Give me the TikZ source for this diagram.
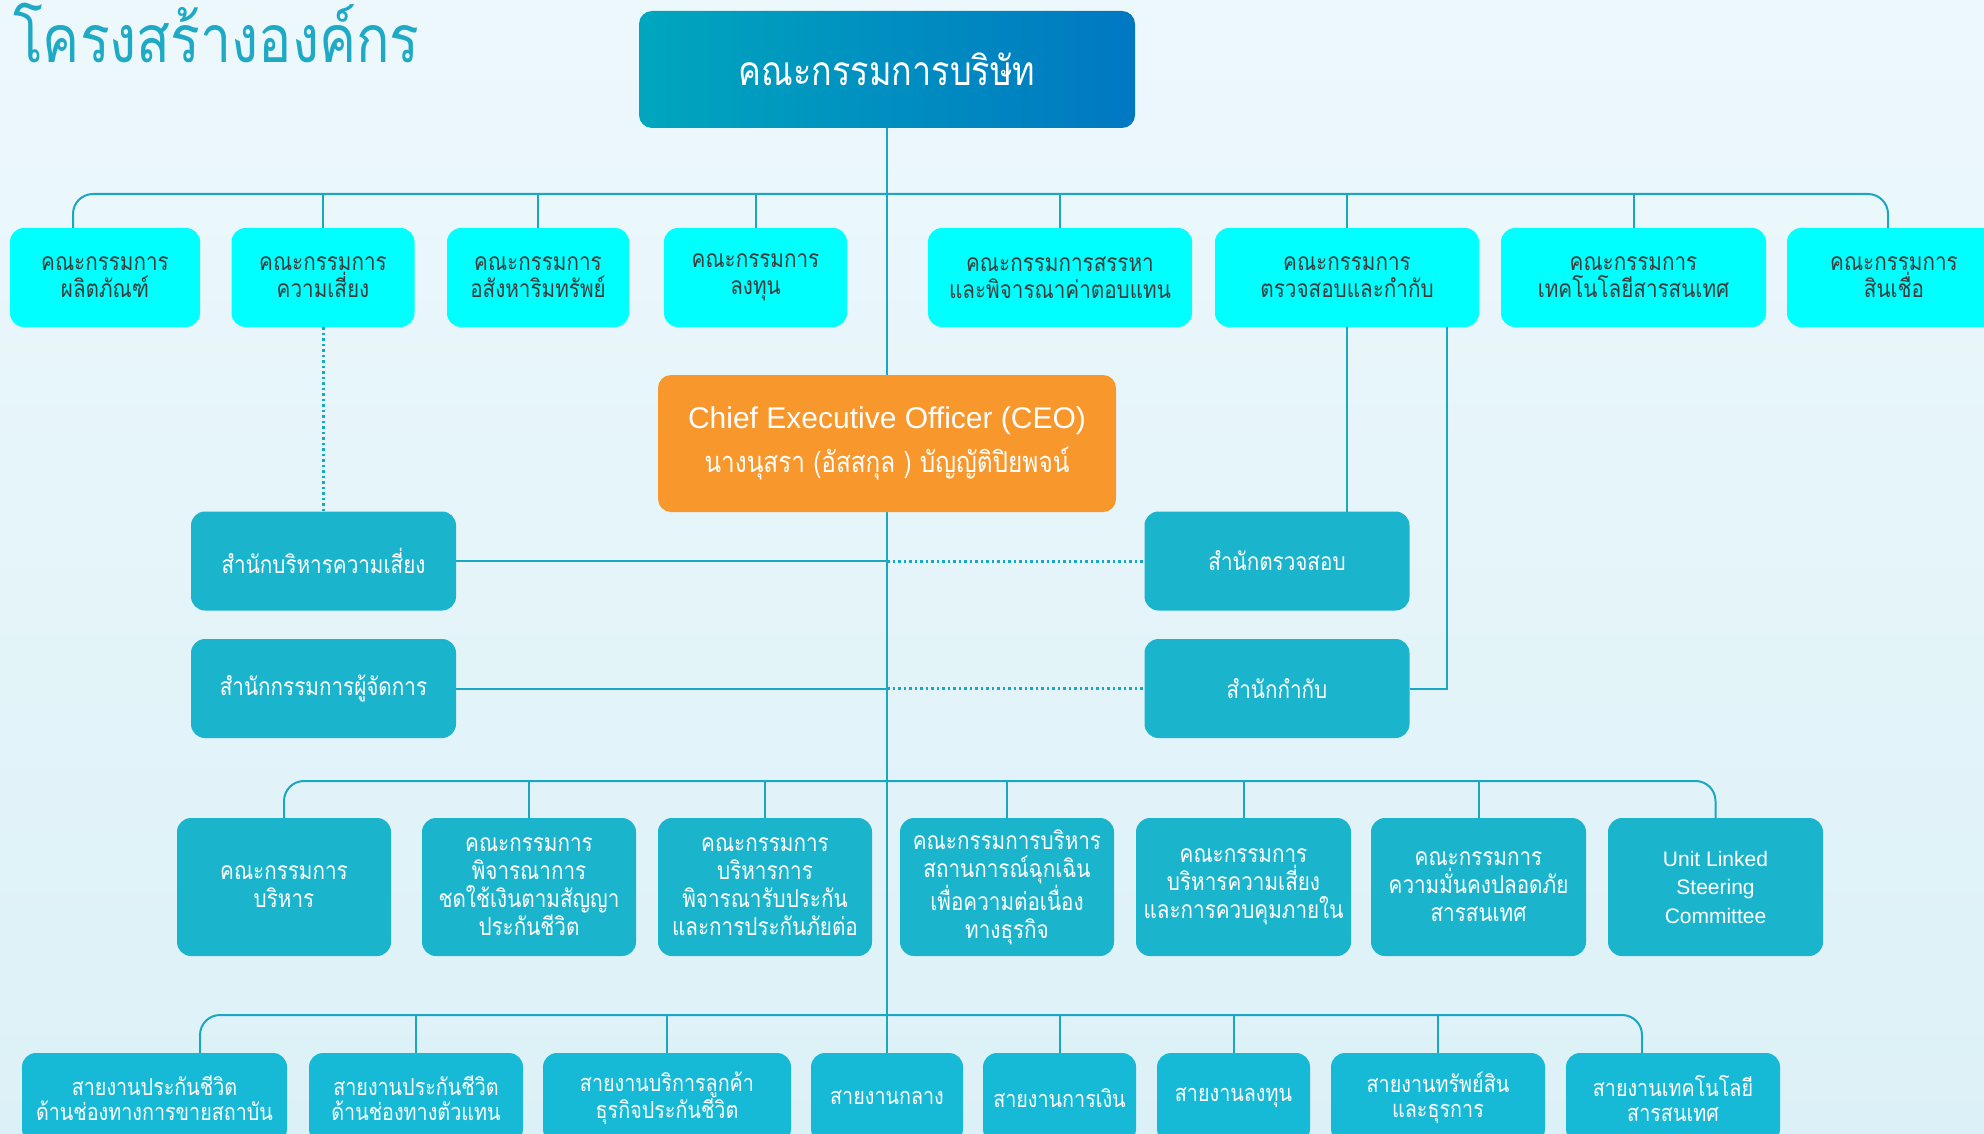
\documentclass[tikz,border=0pt]{standalone}
\usepackage{fontspec}
\setmainfont[Script=Thai, FakeStretch=0.84]{Loma}
\newfontfamily\lat{Liberation Sans}
\definecolor{bgtop}{HTML}{EDF8FC}
\definecolor{bgbot}{HTML}{DCF1F7}
\definecolor{cyanbox}{HTML}{00FFFF}
\definecolor{tealbox}{HTML}{1BB4CD}
\definecolor{tealboxb}{HTML}{16B9D6}
\definecolor{orangebox}{HTML}{F8972B}
\definecolor{linec}{HTML}{1AA7C3}
\definecolor{txtgray}{HTML}{3C3C3C}
\definecolor{gradL}{HTML}{00A6BE}
\definecolor{gradR}{HTML}{0078C2}
\definecolor{titlec}{HTML}{1EA9C5}
\tikzset{
  basebox/.style={rectangle, rounded corners=14, inner sep=0, outer sep=0, align=center},
  topbox/.style={basebox, fill=cyanbox, text=txtgray, minimum height=99, font=\fontsize{24.6}{27}\selectfont},
  officebox/.style={basebox, fill=tealbox, text=white, minimum height=99, minimum width=265, font=\fontsize{24.6}{27}\selectfont},
  midbox/.style={basebox, fill=tealbox, text=white, minimum height=138, font=\fontsize{24.6}{28}\selectfont},
  botbox/.style={basebox, fill=tealboxb, text=white, minimum height=90, font=\fontsize{23.5}{25}\selectfont},
  conn/.style={draw=linec, line width=2},
  dotconn/.style={draw=linec, line width=3, dash pattern=on 2.5 off 3},
}
\begin{document}
\begin{tikzpicture}[x=1pt,y=-1pt]
\useasboundingbox (0,0) rectangle (1984,1134);
\shade[top color=bgtop, bottom color=bgbot] (0,0) rectangle (1984,1134);

% title
\node[anchor=base west, inner sep=0, text=titlec, font=\fontsize{66}{66}\selectfont] (title) at (13,63) {โครงสร้างองค์กร};

% coordinates for bus ends
\coordinate (busTL) at (73,194);
\coordinate (busTR) at (1888,194);
\coordinate (busML) at (284,781);
\coordinate (busMR) at (1715.5,781);
\coordinate (busBL) at (200,1015);
\coordinate (busBR) at (1642,1015);
\coordinate (kk) at (1447,330);

% board
\node[basebox, rounded corners=13, minimum width=496, minimum height=117, left color=gradL, right color=gradR, text=white, font=\fontsize{40.7}{40.7}\selectfont] (board) at (887,69.5) {คณะกรรมการบริษัท};

% top row
\node[topbox, minimum width=190] (c1) at (105,277.5) {คณะกรรมการ\\ผลิตภัณฑ์};
\node[topbox, minimum width=183] (c2) at (323,277.5) {คณะกรรมการ\\ความเสี่ยง};
\node[topbox, minimum width=182] (c3) at (538,277.5) {คณะกรรมการ\\อสังหาริมทรัพย์};
\node[topbox, minimum width=183] (c4) at (755.5,277.5) {คณะกรรมการ\\ลงทุน};
\node[topbox, minimum width=264] (c5) at (1060,277.5) {คณะกรรมการสรรหา\\และพิจารณาค่าตอบแทน};
\node[topbox, minimum width=264] (c6) at (1347,277.5) {คณะกรรมการ\\ตรวจสอบและกำกับ};
\node[topbox, minimum width=265] (c7) at (1633.5,277.5) {คณะกรรมการ\\เทคโนโลยีสารสนเทศ};
\node[topbox, minimum width=214] (c8) at (1894,277.5) {คณะกรรมการ\\สินเชื่อ};

% offices
\node[officebox] (risk) at (323.5,561) {สำนักบริหารความเสี่ยง};
\node[officebox] (md) at (323.5,688.5) {สำนักกรรมการผู้จัดการ};
\node[officebox] (audit) at (1277,561) {สำนักตรวจสอบ};
\node[officebox] (comp) at (1277,688.5) {สำนักกำกับ};

% middle row
\node[midbox, minimum width=214] (m1) at (284,887) {คณะกรรมการ\\บริหาร};
\node[midbox, minimum width=214] (m2) at (529,887) {คณะกรรมการ\\พิจารณาการ\\ชดใช้เงินตามสัญญา\\ประกันชีวิต};
\node[midbox, minimum width=214] (m3) at (765,887) {คณะกรรมการ\\บริหารการ\\พิจารณารับประกัน\\และการประกันภัยต่อ};
\node[midbox, minimum width=214] (m4) at (1007,887) {คณะกรรมการบริหาร\\สถานการณ์ฉุกเฉิน\\เพื่อความต่อเนื่อง\\ทางธุรกิจ};
\node[midbox, minimum width=215] (m5) at (1243.5,887) {คณะกรรมการ\\บริหารความเสี่ยง\\และการควบคุมภายใน};
\node[midbox, minimum width=215] (m6) at (1478.5,887) {คณะกรรมการ\\ความมั่นคงปลอดภัย\\สารสนเทศ};
\node[midbox, minimum width=215, font=\lat\fontsize{21}{28.5}\selectfont] (m7) at (1715.5,887) {Unit Linked\\Steering\\Committee};

% bottom row
\node[botbox, minimum width=265] (g1) at (154.5,1098) {สายงานประกันชีวิต\\ด้านช่องทางการขายสถาบัน};
\node[botbox, minimum width=214] (g2) at (416,1098) {สายงานประกันชีวิต\\ด้านช่องทางตัวแทน};
\node[botbox, minimum width=248] (g3) at (667,1098) {สายงานบริการลูกค้า\\ธุรกิจประกันชีวิต};
\node[botbox, minimum width=152] (g4) at (887,1098) {สายงานกลาง};
\node[botbox, minimum width=153] (g5) at (1059.5,1098) {สายงานการเงิน};
\node[botbox, minimum width=153] (g6) at (1233.5,1098) {สายงานลงทุน};
\node[botbox, minimum width=214] (g7) at (1438,1098) {สายงานทรัพย์สิน\\และธุรการ};
\node[botbox, minimum width=214] (g8) at (1673,1098) {สายงานเทคโนโลยี\\สารสนเทศ};

% connectors
\draw[conn] (board.south) -- (g4.north);
\draw[conn, rounded corners=20] (c1.north -| busTL) -- (busTL) -- (busTR) -- (c8.north -| busTR);
\foreach \n in {c2,c3,c4,c5,c6,c7} \draw[conn] (\n.north) -- (\n.north |- busTL);
\draw[conn, rounded corners=20] (m1.north) -- (busML) -- (busMR) -- (m7.north);
\foreach \n in {m2,m3,m4,m5,m6} \draw[conn] (\n.north) -- (\n.north |- busML);
\draw[conn, rounded corners=20] (g1.north -| busBL) -- (busBL) -- (busBR) -- (g8.north -| busBR);
\foreach \n in {g2,g3,g5,g6,g7} \draw[conn] (\n.north) -- (\n.north |- busBL);

\draw[dotconn] (c2.south) -- (c2.south |- risk.north);
\draw[conn] (risk.east) -- (risk.east -| board.south);
\draw[dotconn] (risk.east -| board.south) -- (audit.west);
\draw[conn] (md.east) -- (md.east -| board.south);
\draw[dotconn] (md.east -| board.south) -- (comp.west);
\draw[conn] (c6.south) -- (c6.south |- audit.north);
\draw[conn] (c6.south -| kk) |- (comp.east);

% CEO
\node[basebox, rounded corners=13, fill=orangebox, text=white, minimum width=458, minimum height=137] (ceo) at (887,443.5) {{\lat\fontsize{30}{30}\selectfont Chief Executive Officer (CEO)}\\[12pt]{\fontsize{29}{29}\selectfont นางนุสรา (อัสสกุล ) บัญญัติปิยพจน์}};
\end{tikzpicture}
\end{document}
